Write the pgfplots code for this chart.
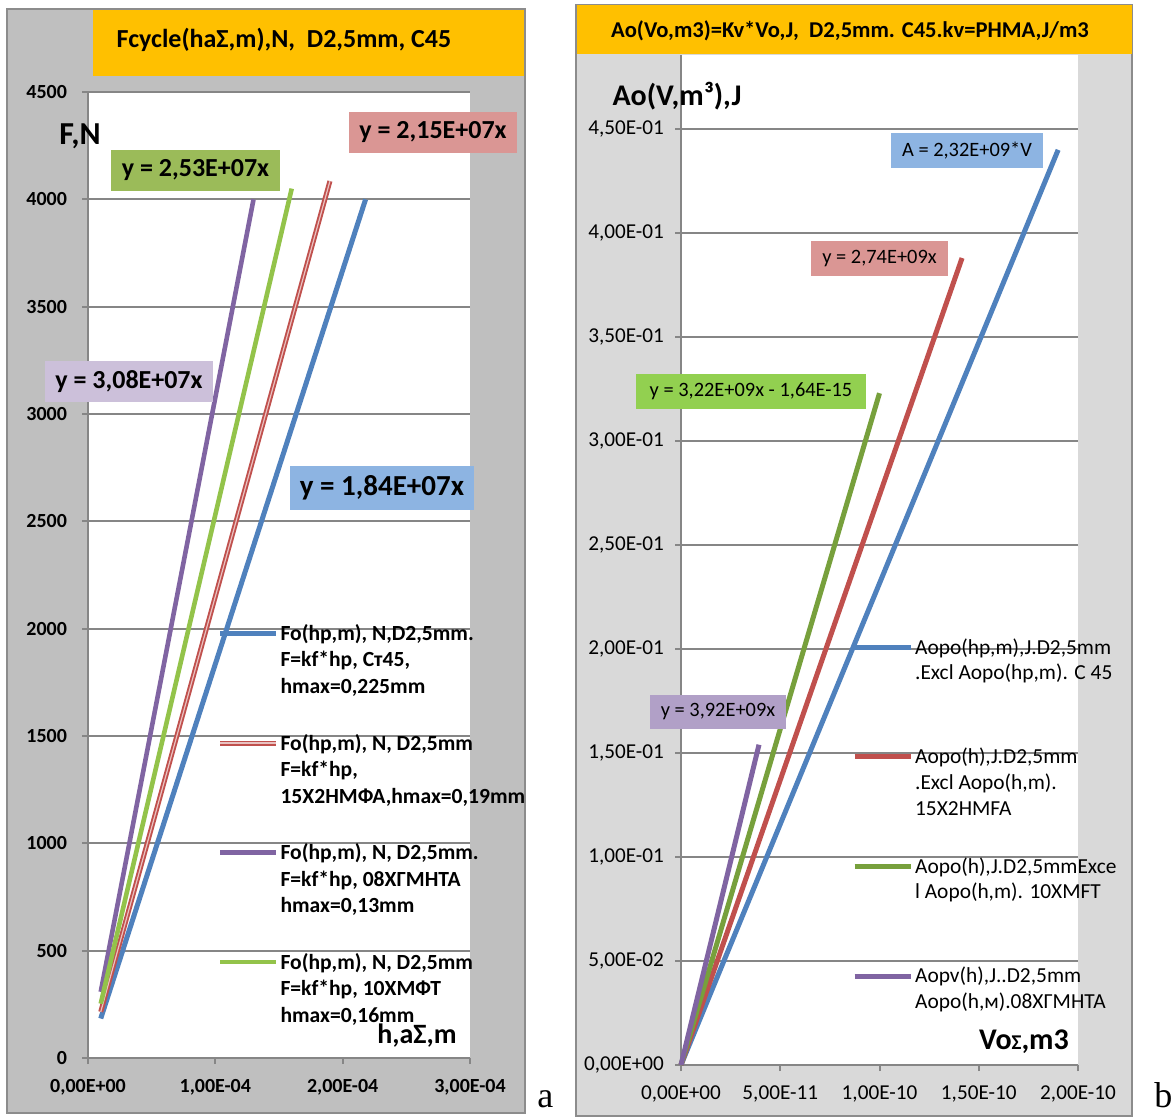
\documentclass[border=0pt]{standalone}
\usepackage{pgfplots}
\pgfplotsset{compat=1.18}
\usepackage{fontspec}
\setmainfont{Carlito}
\newfontfamily\timesfont{Liberation Serif}
\definecolor{xblue}{HTML}{4F81BD}
\definecolor{xred}{HTML}{C0504D}
\definecolor{xpurple}{HTML}{8064A2}
\definecolor{xgreenL}{HTML}{93C34A}
\definecolor{xgreenR}{HTML}{77A03C}
\definecolor{orng}{HTML}{FFC000}
\definecolor{grayL}{HTML}{BFBFBF}
\definecolor{grayR}{HTML}{D9D9D9}
\definecolor{gridc}{HTML}{868686}
\definecolor{panelb}{HTML}{8C8C8C}
\definecolor{lblred}{HTML}{DA9694}
\definecolor{lblgreen}{HTML}{9BBB59}
\definecolor{lblpurple}{HTML}{CCC0DA}
\definecolor{lblblue}{HTML}{8DB4E2}
\definecolor{lblgreenR}{HTML}{92D050}
\definecolor{lblpurpleR}{HTML}{B1A0C7}

\pgfplotstableread{
x y
1e-5 184
2.18e-4 4000
}\leftblue
\pgfplotstableread{
x y
1e-5 215
1.90e-4 4085
}\leftred
\pgfplotstableread{
x y
1e-5 308
1.30e-4 4000
}\leftpurple
\pgfplotstableread{
x y
1e-5 253
1.60e-4 4050
}\leftgreen
\pgfplotstableread{
x y
0 0
1.90e-10 0.440
}\rightblue
\pgfplotstableread{
x y
0 0
1.416e-10 0.388
}\rightred
\pgfplotstableread{
x y
0 0
1.0e-10 0.323
}\rightgreen
\pgfplotstableread{
x y
0 0
3.93e-11 0.154
}\rightpurple

\begin{document}
\begin{tikzpicture}
\begin{scope}[x=0.5pt,y=-0.5pt]
\path[fill=white] (0,0) rectangle (1174,1115);
\filldraw[fill=grayL, draw=panelb, line width=0.6pt] (7,9) rectangle (525,1113);
\filldraw[fill=grayR, draw=panelb, line width=0.6pt] (576,5) rectangle (1132,1116);
\fill[orng] (93,10) rectangle (524,76);
\fill[orng] (576.5,5.5) rectangle (1131.5,54);
\end{scope}

% ---------- left axis ----------
\begin{axis}[
  at={(44pt,-529pt)}, anchor=south west, scale only axis,
  width=191pt, height=483pt,
  xmin=0, xmax=3e-4, ymin=0, ymax=4500,
  axis background/.style={fill=white},
  axis x line=bottom, axis y line=left,
  axis line style={gridc, line width=1pt, -},
  xtick={0,1e-4,2e-4,3e-4},
  xticklabels={{0,00E+00},{1,00E-04},{2,00E-04},{3,00E-04}},
  ytick={0,500,1000,1500,2000,2500,3000,3500,4000,4500},
  yticklabels={0,500,1000,1500,2000,2500,3000,3500,4000,4500},
  scaled x ticks=false, scaled y ticks=false,
  tick style={gridc, line width=1pt},
  tick align=outside, major tick length=3pt,
  ymajorgrids, major grid style={gridc, line width=1pt},
  ticklabel style={font=\bfseries\fontsize{10}{12}\selectfont, text=black},
  xticklabel style={yshift=-4pt},
  yticklabel style={xshift=-4pt},
  legend cell align=left,
  legend style={at={(0.338,0.456)}, anchor=north west, draw=none, fill=none,
    inner sep=0pt, row sep=40pt, column sep=0pt,
    font=\bfseries\fontsize{10.8}{13.25}\selectfont,
    nodes={anchor=base west, inner xsep=1pt}},
  legend image code/.code={\draw[#1] (0pt,3.5pt) -- (28pt,3.5pt);},
  clip=false,
]
\addplot[xblue, line width=2.5pt] table[x=x,y=y] {\leftblue};
\addlegendentry{\begin{tabular}[t]{@{}l@{}}Fo(hp,m), N,D2,5mm.\\F=kf*hp, Ст45,\\hmax=0,225mm\end{tabular}}
\addplot[xred, line width=0.95pt, double=xred!35!white, double distance=0.6pt] table[x=x,y=y] {\leftred};
\addlegendentry{\begin{tabular}[t]{@{}l@{}}Fo(hp,m), N, D2,5mm\\F=kf*hp,\\15Х2НМФА,hmax=0,19mm\end{tabular}}
\addplot[xpurple, line width=2.3pt] table[x=x,y=y] {\leftpurple};
\addlegendentry{\begin{tabular}[t]{@{}l@{}}Fo(hp,m), N, D2,5mm.\\F=kf*hp, 08ХГМНТА\\hmax=0,13mm\end{tabular}}
\addplot[xgreenL, line width=2.3pt] table[x=x,y=y] {\leftgreen};
\addlegendentry{\begin{tabular}[t]{@{}l@{}}Fo(hp,m), N, D2,5mm\\F=kf*hp, 10ХМФТ\\hmax=0,16mm\end{tabular}}
\end{axis}

% ---------- right axis ----------
\begin{axis}[
  at={(340.5pt,-532.5pt)}, anchor=south west, scale only axis,
  width=198.5pt, height=505pt,
  xmin=0, xmax=2e-10, ymin=0, ymax=0.4856,
  axis background/.style={fill=white},
  axis x line=bottom, axis y line=left,
  axis line style={gridc, line width=1pt, -},
  xtick={0,5e-11,1e-10,1.5e-10,2e-10},
  xticklabels={{0,00E+00},{5,00E-11},{1,00E-10},{1,50E-10},{2,00E-10}},
  ytick={0,0.05,0.1,0.15,0.2,0.25,0.3,0.35,0.4,0.45},
  yticklabels={{0,00E+00},{5,00E-02},{1,00E-01},{1,50E-01},{2,00E-01},{2,50E-01},{3,00E-01},{3,50E-01},{4,00E-01},{4,50E-01}},
  scaled x ticks=false, scaled y ticks=false,
  tick style={gridc, line width=1pt},
  tick align=outside, major tick length=3pt,
  ymajorgrids, major grid style={gridc, line width=1pt},
  ticklabel style={font=\fontsize{10.6}{12}\selectfont, text=black},
  xticklabel style={yshift=-4pt},
  yticklabel style={xshift=-2pt},
  legend cell align=left,
  legend style={at={(0.43,0.429)}, anchor=north west, draw=none, fill=none,
    inner sep=0pt, row sep=40.3pt, column sep=0pt,
    font=\fontsize{10.7}{12.85}\selectfont,
    nodes={anchor=base west, inner xsep=1pt}},
  legend image code/.code={\draw[#1] (0pt,3.4pt) -- (28pt,3.4pt);},
  clip=false,
]
\addplot[xblue, line width=2.5pt] table[x=x,y=y] {\rightblue};
\addlegendentry{\begin{tabular}[t]{@{}l@{}}Aopo(hp,m),J.D2,5mm\\.Excl Aopo(hp,m). C 45\\ \end{tabular}}
\addplot[xred, line width=2.5pt] table[x=x,y=y] {\rightred};
\addlegendentry{\begin{tabular}[t]{@{}l@{}}Aopo(h),J.D2,5mm\\.Excl Aopo(h,m).\\15X2HMFA\end{tabular}}
\addplot[xgreenR, line width=2.5pt] table[x=x,y=y] {\rightgreen};
\addlegendentry{\begin{tabular}[t]{@{}l@{}}Aopo(h),J.D2,5mmExce\\l Aopo(h,m). 10XMFT\\ \end{tabular}}
\addplot[xpurple, line width=2.5pt] table[x=x,y=y] {\rightpurple};
\addlegendentry{\begin{tabular}[t]{@{}l@{}}Aopv(h),J..D2,5mm\\Aopo(h,м).08ХГМНТА\\ \end{tabular}}
\end{axis}

\begin{scope}[x=0.5pt,y=-0.5pt]
% titles
\node[font=\bfseries\fontsize{13}{15}\selectfont] at (284,40) {Fcycle(haΣ,m),N,\ \ D2,5mm, C45};
\node[font=\bfseries\fontsize{11.3}{13}\selectfont] at (850,31) {Ao(Vo,m3)=Kv*Vo,J,\ \ D2,5mm. C45.kv=PHMA,J/m3};
% axis labels
\node[font=\bfseries\fontsize{16}{18}\selectfont] at (80,136) {F,N};
\node[font=\bfseries\fontsize{14}{16}\selectfont] at (417,1036) {h,aΣ,m};
\node[font=\bfseries\fontsize{15}{17}\selectfont] at (677,96) {Ao(V,m³),J};
\node[font=\bfseries\fontsize{15}{17}\selectfont] at (1024,1042) {Vo{\fontsize{10.5}{11}\selectfont Σ},m3};
% equation labels left
\node[fill=lblred, minimum width=84pt, minimum height=20.5pt, inner sep=0pt, font=\bfseries\fontsize{13}{15}\selectfont] at (433,132.5) {y = 2,15E+07x};
\node[fill=lblgreen, minimum width=84.5pt, minimum height=20.5pt, inner sep=0pt, font=\bfseries\fontsize{13}{15}\selectfont] at (195.5,170.5) {y = 2,53E+07x};
\node[fill=lblpurple, minimum width=84pt, minimum height=20.5pt, inner sep=0pt, font=\bfseries\fontsize{13}{15}\selectfont] at (129,381.5) {y = 3,08E+07x};
\node[fill=lblblue, minimum width=92pt, minimum height=22pt, inner sep=0pt, font=\bfseries\fontsize{14.5}{16}\selectfont] at (382,488) {y = 1,84E+07x};
% equation labels right
\node[fill=lblblue, minimum width=76pt, minimum height=17.5pt, inner sep=0pt, font=\fontsize{10.2}{12}\selectfont] at (967,150.5) {A = 2,32E+09*V};
\node[fill=lblred, minimum width=68.5pt, minimum height=17.5pt, inner sep=0pt, font=\fontsize{10.2}{12}\selectfont] at (879.5,258.5) {y = 2,74E+09x};
\node[fill=lblgreenR, minimum width=115pt, minimum height=17.5pt, inner sep=0pt, font=\fontsize{10.2}{12}\selectfont] at (751,391.5) {y = 3,22E+09x - 1,64E-15};
\node[fill=lblpurpleR, minimum width=68pt, minimum height=17pt, inner sep=0pt, font=\fontsize{10.2}{12}\selectfont] at (718,712) {y = 3,92E+09x};
% panel letters
\node[anchor=base west, inner sep=0pt, font=\timesfont\fontsize{18}{20}\selectfont] at (537,1108) {a};
\node[anchor=base west, inner sep=0pt, font=\timesfont\fontsize{18}{20}\selectfont] at (1154,1108) {b};
\end{scope}
\end{tikzpicture}
\end{document}
